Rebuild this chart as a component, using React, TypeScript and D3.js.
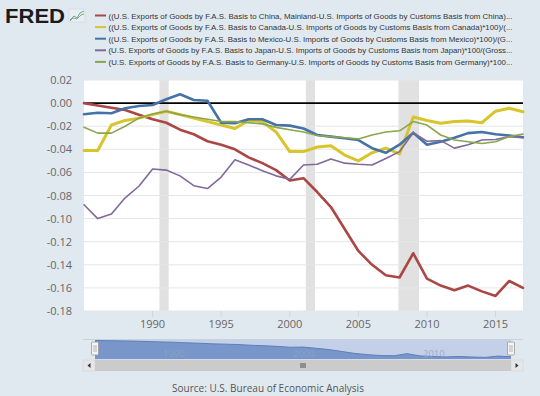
import React from "react";
import * as d3 from "d3";

const years = [1985, 1986, 1987, 1988, 1989, 1990, 1991, 1992, 1993, 1994, 1995, 1996, 1997, 1998, 1999, 2000, 2001, 2002, 2003, 2004, 2005, 2006, 2007, 2008, 2009, 2010, 2011, 2012, 2013, 2014, 2015, 2016, 2017];

const china = [0.0, -0.002, -0.004, -0.006, -0.01, -0.014, -0.017, -0.023, -0.027, -0.033, -0.036, -0.04, -0.047, -0.052, -0.058, -0.067, -0.065, -0.077, -0.09, -0.109, -0.128, -0.14, -0.149, -0.151, -0.13, -0.152, -0.158, -0.162, -0.158, -0.163, -0.167, -0.154, -0.16];
const canada = [-0.041, -0.041, -0.019, -0.015, -0.013, -0.01, -0.007, -0.01, -0.013, -0.016, -0.019, -0.022, -0.015, -0.016, -0.025, -0.042, -0.042, -0.038, -0.037, -0.045, -0.05, -0.043, -0.039, -0.044, -0.012, -0.015, -0.0175, -0.016, -0.0155, -0.017, -0.007, -0.0045, -0.0075];
const mexico = [-0.0097, -0.0083, -0.0088, -0.0045, -0.0025, -0.0016, 0.0033, 0.0076, 0.0027, 0.002, -0.017, -0.0175, -0.014, -0.014, -0.019, -0.0195, -0.022, -0.0276, -0.029, -0.0305, -0.032, -0.039, -0.043, -0.036, -0.0256, -0.036, -0.0334, -0.03, -0.026, -0.025, -0.027, -0.028, -0.0296];
const japan = [-0.088, -0.1, -0.096, -0.082, -0.072, -0.057, -0.058, -0.063, -0.0715, -0.074, -0.064, -0.049, -0.0536, -0.0585, -0.063, -0.066, -0.0536, -0.053, -0.0484, -0.052, -0.053, -0.0536, -0.048, -0.042, -0.0256, -0.033, -0.0325, -0.039, -0.036, -0.032, -0.0315, -0.029, -0.03];
const germany = [-0.021, -0.026, -0.026, -0.02, -0.013, -0.0095, -0.007, -0.01, -0.012, -0.014, -0.016, -0.016, -0.017, -0.018, -0.021, -0.023, -0.025, -0.028, -0.029, -0.03, -0.031, -0.0276, -0.025, -0.024, -0.016, -0.019, -0.0276, -0.032, -0.0335, -0.035, -0.0335, -0.029, -0.0268];

const seriesNames = [
  "((U.S. Exports of Goods by F.A.S. Basis to China, Mainland-U.S. Imports of Goods by Customs Basis from China)...",
  "((U.S. Exports of Goods by F.A.S. Basis to Canada-U.S. Imports of Goods by Customs Basis from Canada)*100)/(...",
  "((U.S. Exports of Goods by F.A.S. Basis to Mexico-U.S. Imports of Goods by Customs Basis from Mexico)*100)/(G...",
  "(U.S. Exports of Goods by F.A.S. Basis to Japan-U.S. Imports of Goods by Customs Basis from Japan)*100/(Gross...",
  "(U.S. Exports of Goods by F.A.S. Basis to Germany-U.S. Imports of Goods by Customs Basis from Germany)*100...",
];
const seriesColors = ["#aa4643", "#d8c52c", "#4572a7", "#80699b", "#89a54e"];
const seriesWidths = [2.6, 3, 2.6, 1.6, 1.6];

const yTicks = [0.02, 0.0, -0.02, -0.04, -0.06, -0.08, -0.1, -0.12, -0.14, -0.16, -0.18];
const xTicks = [1990, 1995, 2000, 2005, 2010, 2015];
const navTicks = [1990, 2000, 2010];
const recessions: [number, number][] = [[1990.5, 1991.17], [2001.17, 2001.84], [2007.92, 2009.42]];

const W = 540, H = 396;
const PL = 84, PR = 523, PT = 80, PB = 311;

export default function App() {
  const x = d3.scaleLinear().domain([1985, 2017]).range([PL, PR]);
  const y = d3.scaleLinear().domain([-0.18, 0.02]).range([PB, PT]);
  const all = [china, canada, mexico, japan, germany];
  const line = (vals: number[]) =>
    d3.line<number>().x((_, i) => x(years[i])).y((v) => y(v))(vals) || "";

  const nx = d3.scaleLinear().domain([1985, 2017]).range([95, 511]);
  const ny = d3.scaleLinear().domain([-0.168, 0]).range([357.5, 340.5]);
  const navArea = d3.area<number>().x((_, i) => nx(years[i])).y0(359).y1((v) => ny(v))(china) || "";
  const navLine = d3.line<number>().x((_, i) => nx(years[i])).y((v) => ny(v))(china) || "";

  return (
    <svg width={W} height={H} style={{ position: "absolute", left: 0, top: 0, fontFamily: "'Open Sans', 'Noto Sans', sans-serif" }}>
      <rect x={0} y={0} width={W} height={H} fill="#e1e9f0" />
      {/* FRED logo */}
      <text x={5} y={23} fontSize={20} fontWeight={800} fill="#1b1b1b" textLength={60} lengthAdjust="spacingAndGlyphs" fontFamily="'Liberation Sans', Arial, sans-serif">FRED</text>
      <g>
        <rect x={69} y={9} width={16} height={13} fill="#e9eef3" stroke="#c9d3dd" strokeWidth={0.5} />
        <polyline points="70,20 74,16 77,18 80,13 84,11" fill="none" stroke="#6f9bc7" strokeWidth={1} />
        <polyline points="70,21 73,18 77,19 81,15 84,14" fill="none" stroke="#8ab06a" strokeWidth={1} />
      </g>
      {/* legend */}
      {seriesNames.map((n, i) => (
        <g key={n}>
          <line x1={95} x2={106} y1={15.5 + i * 11.6} y2={15.5 + i * 11.6} stroke={seriesColors[i]} strokeWidth={2} />
          <text x={108.5} y={18.5 + i * 11.6} fontSize={7.8} fill="#333" textLength={404} lengthAdjust="spacingAndGlyphs" fontFamily="'Liberation Sans', Arial, sans-serif">{n}</text>
        </g>
      ))}
      {/* plot */}
      <rect x={PL} y={PT} width={PR - PL} height={PB - PT} fill="#ffffff" />
      {recessions.map(([a, b]) => (
        <rect key={a} x={x(a)} y={PT} width={x(b) - x(a)} height={PB - PT} fill="#e1e1e1" />
      ))}
      {yTicks.map((t) => (
        <g key={t}>
          <line x1={PL} x2={PR} y1={y(t)} y2={y(t)} stroke="#e6e6e6" strokeWidth={1} />
          <text x={72} y={y(t) + 4} fontSize={11} fill="#666" textAnchor="end">{t.toFixed(2)}</text>
        </g>
      ))}
      {xTicks.map((t) => (
        <g key={t}>
          <line x1={x(t)} x2={x(t)} y1={PB} y2={PB + 6} stroke="#ccd6e0" strokeWidth={1} />
          <text x={x(t)} y={328} fontSize={11} fill="#666" textAnchor="middle">{t}</text>
        </g>
      ))}
      <line x1={PL} x2={PR} y1={y(0)} y2={y(0)} stroke="#000" strokeWidth={1.6} />
      {all.map((vals, i) => (
        <path key={i} d={line(vals)} fill="none" stroke={seriesColors[i]} strokeWidth={seriesWidths[i]} strokeLinejoin="round" strokeLinecap="round" />
      ))}
      {/* navigator */}
      <line x1={83} x2={523} y1={339.5} y2={339.5} stroke="#c8d2dc" strokeWidth={1} />
      <rect x={95} y={340} width={416} height={19.5} fill="#c3d0e7" />
      <path d={navArea} fill="#7896c9" />
      <path d={navLine} fill="none" stroke="#5d7fbb" strokeWidth={1} />
      {navTicks.map((t) => (
        <text key={t} x={nx(t) + 3} y={357} fontSize={9.5} fill="#8ea5c8" opacity={0.8}>{t}</text>
      ))}
      {[95, 511].map((hx) => (
        <g key={hx}>
          <rect x={hx - 3.5} y={342} width={7} height={13} fill="#f4f4f4" stroke="#999" strokeWidth={0.8} rx={1} />
          <line x1={hx - 1} x2={hx - 1} y1={345} y2={352} stroke="#999" strokeWidth={0.7} />
          <line x1={hx + 1} x2={hx + 1} y1={345} y2={352} stroke="#999" strokeWidth={0.7} />
        </g>
      ))}
      {/* scrollbar */}
      <rect x={83} y={360} width={440} height={11} fill="#eef1f4" />
      <rect x={95} y={360} width={416} height={11} fill="#cbcbcb" />
      <rect x={83} y={360} width={12} height={11} fill="#e6e6e6" stroke="#d0d0d0" strokeWidth={0.5} />
      <rect x={511} y={360} width={12} height={11} fill="#e6e6e6" stroke="#d0d0d0" strokeWidth={0.5} />
      <path d="M90.5,363 L87.5,365.5 L90.5,368 Z" fill="#333" />
      <path d="M515.5,363 L518.5,365.5 L515.5,368 Z" fill="#333" />
      {[-2, 0, 2].map((d) => (
        <line key={d} x1={303 + d} x2={303 + d} y1={363} y2={368} stroke="#333" strokeWidth={0.8} />
      ))}
      <text x={268} y={392} fontSize={10} fill="#555" textAnchor="middle">Source: U.S. Bureau of Economic Analysis</text>
    </svg>
  );
}
